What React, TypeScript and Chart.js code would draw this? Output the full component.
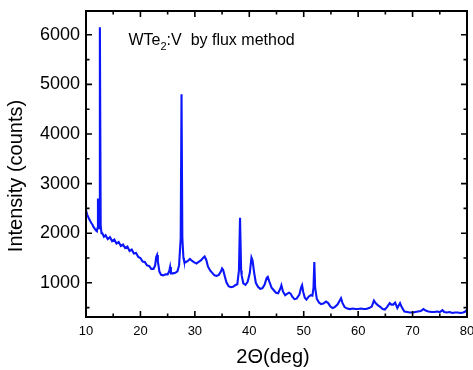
import React, { useEffect, useRef } from "react";
import { Chart, registerables } from "chart.js";

Chart.register(...registerables);

const twoTheta = [
  10.0, 10.2, 10.4, 10.6, 10.8, 11.0, 11.2, 11.4, 11.6, 11.8, 12.0, 12.1, 12.2, 12.3, 12.45, 12.55, 12.7, 12.85,
  13.0, 13.3, 13.6, 14.0, 14.4, 14.8, 15.2, 15.6, 16.0, 16.4, 16.8, 17.2, 17.6, 18.0, 18.4, 18.8, 19.2, 19.6,
  20.0, 20.4, 20.8, 21.2, 21.6, 22.0, 22.4, 22.7, 22.9, 23.05, 23.2, 23.5, 23.8, 24.2, 24.6, 25.0, 25.3, 25.45,
  25.6, 26.0, 26.4, 26.8, 27.1, 27.4, 27.55, 27.7, 27.9, 28.0, 28.3, 28.7, 29.1, 29.5, 29.9, 30.3, 30.7,
  31.1, 31.5, 31.8, 32.1, 32.4, 32.8, 33.2, 33.6, 34.0, 34.4, 34.8, 35.0, 35.2, 35.5, 35.8, 36.2, 36.6, 37.0,
  37.4, 37.8, 38.1, 38.3, 38.5, 38.6, 38.9, 39.3, 39.7, 40.1, 40.4, 40.6, 40.9, 41.2, 41.6, 42.0, 42.4, 42.8,
  43.2, 43.4, 43.7, 44.1, 44.5, 44.9, 45.3, 45.7, 45.9, 46.2, 46.6, 47.0, 47.3, 47.6, 47.9, 48.3, 48.7, 49.2,
  49.5, 49.7, 49.9, 50.2, 50.5, 50.9, 51.3, 51.6, 51.8, 51.95, 52.1, 52.4, 52.8, 53.2, 53.6, 54.1, 54.5, 54.9,
  55.3, 55.7, 56.2, 56.6, 56.85, 57.1, 57.5, 58.0, 58.5, 59.0, 59.5, 60.0, 60.5, 61.0, 61.5, 62.0, 62.5, 62.9,
  63.2, 63.6, 64.0, 64.5, 64.9, 65.3, 65.8, 66.1, 66.45, 66.8, 67.2, 67.7, 68.0, 68.5, 69.0, 69.5, 70.0, 70.5,
  71.0, 71.5, 72.0, 72.4, 72.9, 73.5, 74.0, 74.5, 75.0, 75.5, 75.8, 76.3, 76.8, 77.3, 77.8, 78.3, 78.8, 79.3,
  79.7, 80.0,
];
const intensity = [
  2460, 2380, 2330, 2280, 2240, 2200, 2170, 2120, 2090, 2060, 2040, 2100, 2700, 2150, 2100, 6150, 2150, 2000,
  2000, 1930, 1960, 1880, 1920, 1840, 1870, 1790, 1820, 1740, 1770, 1700, 1730, 1640, 1670, 1590, 1600, 1520,
  1500, 1430, 1420, 1350, 1340, 1280, 1280, 1350, 1520, 1560, 1430, 1220, 1160, 1150, 1170, 1170, 1240, 1320,
  1190, 1190, 1200, 1230, 1350, 1900, 4800, 1900, 1500, 1450, 1410, 1440, 1480, 1440, 1410, 1390, 1420,
  1450, 1500, 1530, 1460, 1330, 1250, 1200, 1150, 1140, 1160, 1230, 1290, 1260, 1130, 1010, 930, 910, 920,
  950, 970, 1250, 2310, 1250, 1150, 990, 960, 1020, 1200, 1510, 1450, 1200, 1000, 920, 880, 890, 960,
  1100, 1120, 1020, 900, 850, 800, 790, 880, 950, 820, 750, 780, 800, 780, 720, 670, 680, 760,
  900, 950, 820, 700, 660, 720, 750, 740, 900, 1420, 900, 680, 600, 570, 580, 620, 590, 520,
  490, 510, 560, 640, 690, 600, 510, 480, 470, 480, 470, 470, 480, 470, 470, 490, 520, 640,
  590, 550, 520, 470, 460, 510, 590, 560, 560, 600, 490, 590, 510, 420, 410, 400, 400, 410,
  420, 430, 470, 440, 420, 410, 410, 420, 410, 450, 410, 400, 410, 390, 400, 400, 390, 400,
  420, 460,
];

const xMajorTicks = [10, 20, 30, 40, 50, 60, 70, 80];
const xMinorTicks = [15, 25, 35, 45, 55, 65, 75];
const yMajorTicks = [1000, 2000, 3000, 4000, 5000, 6000];
const yMinorTicks = [500, 1500, 2500, 3500, 4500, 5500];

const xTitle = "2\u0398(deg)";
const yTitle = "Intensity (counts)";
const noteMain = "WTe";
const noteSub = "2";
const noteRest = ":V  by flux method";

const FONT = '"Liberation Sans", Arial, Helvetica, sans-serif';
const LINE_COLOR = "rgb(12, 22, 250)";

export default function App() {
  const ref = useRef<HTMLCanvasElement>(null);

  useEffect(() => {
    if (!ref.current) return;

    const framePlugin = {
      id: "frameTicks",
      afterDraw(chart: any) {
        const { ctx, chartArea: a, scales } = chart;
        const xs = scales.x;
        const ys = scales.y;
        ctx.save();
        ctx.strokeStyle = "#000";
        ctx.lineWidth = 1.6;
        ctx.beginPath();
        const xt = (v: number, len: number) => {
          const p = xs.getPixelForValue(v);
          ctx.moveTo(p, a.bottom);
          ctx.lineTo(p, a.bottom - len);
          ctx.moveTo(p, a.top);
          ctx.lineTo(p, a.top + len);
        };
        const yt = (v: number, len: number) => {
          const p = ys.getPixelForValue(v);
          ctx.moveTo(a.left, p);
          ctx.lineTo(a.left + len, p);
          ctx.moveTo(a.right, p);
          ctx.lineTo(a.right - len, p);
        };
        xMajorTicks.forEach((v) => xt(v, 6));
        xMinorTicks.forEach((v) => xt(v, 3.5));
        yMajorTicks.forEach((v) => yt(v, 6));
        yMinorTicks.forEach((v) => yt(v, 3.5));
        ctx.stroke();

        ctx.lineWidth = 2;
        ctx.strokeRect(a.left, a.top, a.right - a.left, a.bottom - a.top);

        ctx.fillStyle = "#000";
        ctx.textBaseline = "alphabetic";
        ctx.font = `20px ${FONT}`;
        ctx.textAlign = "center";
        ctx.fillText(xTitle, 273, a.bottom + 46);

        ctx.save();
        ctx.translate(22, 176);
        ctx.rotate(-Math.PI / 2);
        ctx.fillText(yTitle, 0, 0);
        ctx.restore();

        ctx.textAlign = "left";
        let x0 = 128.5;
        const by = 44.5;
        ctx.font = `16px ${FONT}`;
        ctx.fillText(noteMain, x0, by);
        x0 += ctx.measureText(noteMain).width;
        ctx.font = `11px ${FONT}`;
        ctx.fillText(noteSub, x0, by + 5);
        x0 += ctx.measureText(noteSub).width;
        ctx.font = `16px ${FONT}`;
        ctx.fillText(noteRest, x0, by);
        ctx.restore();
      },
    };

    const chart = new Chart(ref.current, {
      type: "line",
      data: {
        datasets: [
          {
            data: twoTheta.map((x, i) => ({ x, y: intensity[i] })),
            borderColor: LINE_COLOR,
            borderWidth: 2.1,
            pointRadius: 0,
            tension: 0,
            fill: false,
          },
        ],
      },
      options: {
        animation: false,
        responsive: false,
        events: [],
        layout: { padding: { top: 11, right: 6, left: 0, bottom: 0 } },
        plugins: {
          legend: { display: false },
          tooltip: { enabled: false },
          title: { display: false },
        },
        scales: {
          x: {
            type: "linear",
            min: 10,
            max: 80,
            grid: { display: false, drawTicks: false },
            border: { display: false },
            afterBuildTicks: (s: any) => {
              s.ticks = xMajorTicks.map((v) => ({ value: v }));
            },
            afterFit: (s: any) => {
              s.height = 53;
              s.paddingLeft = 0;
              s.paddingRight = 0;
            },
            ticks: {
              color: "#000",
              font: { family: FONT, size: 13 },
              padding: 7,
              maxRotation: 0,
              autoSkip: false,
              callback: (v: any) => String(v),
            },
          },
          y: {
            type: "linear",
            min: 310,
            max: 6480,
            grid: { display: false, drawTicks: false },
            border: { display: false },
            afterBuildTicks: (s: any) => {
              s.ticks = yMajorTicks.map((v) => ({ value: v }));
            },
            afterFit: (s: any) => {
              s.width = 86;
              s.paddingTop = 0;
              s.paddingBottom = 0;
            },
            ticks: {
              color: "#000",
              font: { family: FONT, size: 18 },
              padding: 6,
              autoSkip: false,
              callback: (v: any) => String(v),
            },
          },
        },
      },
      plugins: [framePlugin],
    } as any);

    return () => chart.destroy();
  }, []);

  return (
    <div style={{ position: "absolute", left: 0, top: 0, width: 473, height: 370, background: "#fff" }}>
      <canvas ref={ref} width={473} height={370} style={{ display: "block" }} />
    </div>
  );
}
